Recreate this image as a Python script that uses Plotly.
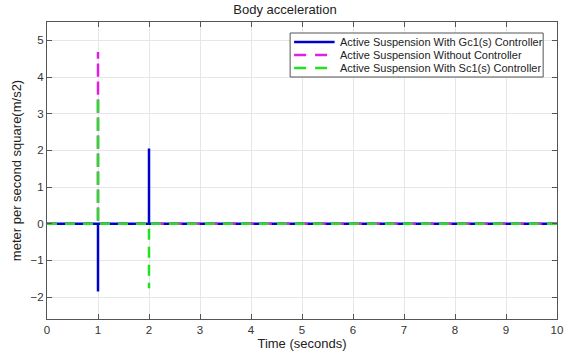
import plotly.graph_objects as go

# Data
t = [0, 1, 1, 1, 2, 2, 2, 10]
gc1 = [0, 0, -1.85, 0, 0, 2.05, 0, 0]
no_ctrl = [0, 0, 4.68, 0, 0, 0, 0, 0]
sc1 = [0, 0, 3.45, 0, 0, -1.76, 0, 0]
names = ["Active Suspension With Gc1(s) Controller",
         "Active Suspension Without Controller",
         "Active Suspension With Sc1(s) Controller"]
colors = ["#0000CC", "#E020E0", "#22E022"]
dashes = ["solid", "10px,8px", "10px,8px"]
x_ticks = list(range(0, 11))
y_ticks = [-2, -1, 0, 1, 2, 3, 4, 5]

fig = go.Figure()
for yv, nm, c, d in zip([gc1, no_ctrl, sc1], names, colors, dashes):
    fig.add_trace(go.Scatter(x=t, y=yv, mode="lines", name=nm,
                             line=dict(color=c, width=2.5, dash=d), showlegend=False))

W, H = 570, 356
ml, mr, mt, mb = 47, 7, 22, 37
pw, ph = W - ml - mr, H - mt - mb


def px(x):
    return (x - ml) / pw


def py(y):
    return 1 - (y - mt) / ph


# Legend drawn as a MATLAB-style box
shapes = [dict(type="rect", xref="paper", yref="paper",
               x0=px(293), x1=px(549), y0=py(77), y1=py(33),
               line=dict(color="#555555", width=1), fillcolor="white", layer="above")]
annotations = []
row_y = [42, 55, 68]
for nm, c, d, ry in zip(names, colors, dashes, row_y):
    shapes.append(dict(type="line", xref="paper", yref="paper",
                       x0=px(297), x1=px(338), y0=py(ry), y1=py(ry),
                       line=dict(color=c, width=2.5, dash="solid" if d == "solid" else "12px,9px"),
                       layer="above"))
    annotations.append(dict(text=nm, xref="paper", yref="paper", x=px(341), y=py(ry),
                            xanchor="left", yanchor="middle", showarrow=False,
                            font=dict(size=11, color="#222222")))

axis_common = dict(showgrid=True, gridcolor="#E6E6E6", gridwidth=1,
                   showline=True, linecolor="#555555", linewidth=1, mirror="ticks",
                   ticks="inside", ticklen=5, tickcolor="#555555",
                   zeroline=False, tickfont=dict(size=11.5, color="#333333"))

fig.update_layout(
    width=W, height=H,
    margin=dict(l=ml, r=mr, t=mt, b=mb),
    paper_bgcolor="white", plot_bgcolor="white",
    font=dict(family="Liberation Sans, Arial, sans-serif", color="#222222"),
    title=dict(text="Body acceleration", x=0.5, xanchor="center", y=0.985, yanchor="top",
               font=dict(size=13, color="#222222")),
    xaxis=dict(range=[0, 10], tickvals=x_ticks,
               title=dict(text="Time (seconds)", font=dict(size=13), standoff=4),
               **axis_common),
    yaxis=dict(range=[-2.6, 5.5], tickvals=y_ticks,
               title=dict(text="meter per second square(m/s2)", font=dict(size=13), standoff=6),
               **axis_common),
    shapes=shapes,
    annotations=annotations,
    showlegend=False,
)

fig.write_html("out.html")
